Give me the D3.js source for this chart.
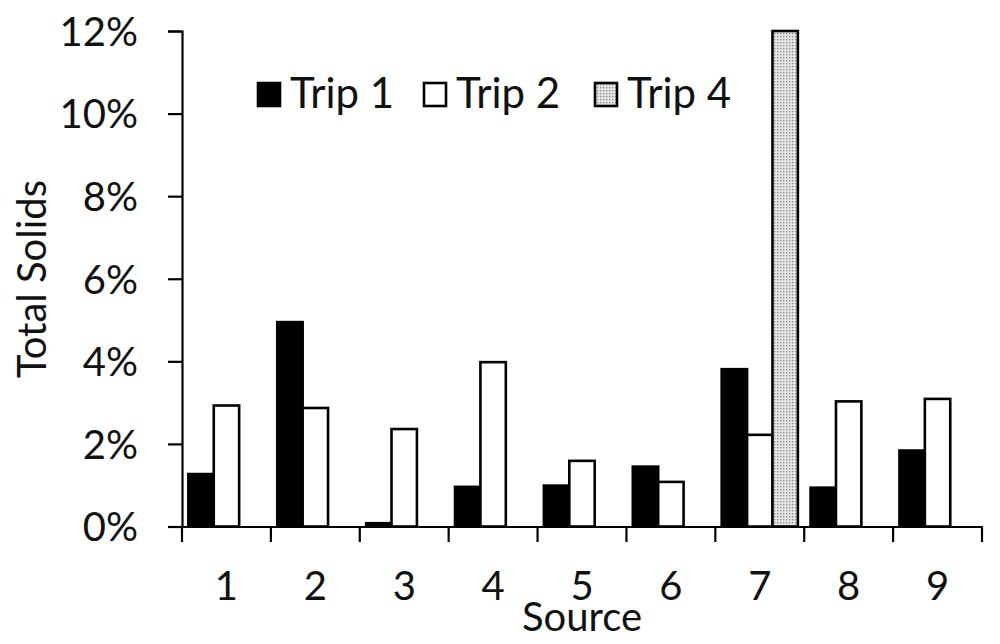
<!DOCTYPE html>
<html><head><meta charset="utf-8">
<script src="https://cdn.jsdelivr.net/npm/d3@7/dist/d3.min.js"></script>
<style>body{margin:0;background:#fff}svg text{font-family:Lato,"Open Sans",sans-serif;fill:#111}</style>
</head><body><svg id="c" width="1000" height="644"></svg>
<script>
const categories = ["1","2","3","4","5","6","7","8","9"];
const series = ["Trip 1","Trip 2","Trip 4"];
const trip1 = [1.27, 4.95, 0.08, 0.96, 0.99, 1.45, 3.81, 0.94, 1.84];
const trip2 = [2.93, 2.87, 2.36, 3.98, 1.59, 1.08, 2.22, 3.03, 3.09];
const trip4 = [null, null, null, null, null, null, 12, null, null];
const yTicks = [0, 2, 4, 6, 8, 10, 12];

const svg = d3.select("#c");
const defs = svg.append("defs");
const pat = defs.append("pattern").attr("id","dots").attr("patternUnits","userSpaceOnUse")
  .attr("width",3).attr("height",3);
pat.append("rect").attr("width",3).attr("height",3).attr("fill","#e4e4e4");
pat.append("rect").attr("x",0).attr("y",0).attr("width",1.3).attr("height",1.3).attr("fill","#888");

const x0 = d3.scaleBand().domain(categories).range([182, 982]).paddingInner(0).paddingOuter(0);
const x1 = d3.scaleBand().domain(series).range([0, x0.bandwidth()]).paddingInner(0).paddingOuter(0.25);
const y = d3.scaleLinear().domain([0, 12]).range([526.5, 31]).clamp(true);

const vals = {"Trip 1": trip1, "Trip 2": trip2, "Trip 4": trip4};
const fills = {"Trip 1": "#000", "Trip 2": "#fff", "Trip 4": "url(#dots)"};

const data = [];
series.forEach(s => categories.forEach((c, i) => { if (vals[s][i] != null) data.push({s, c, v: vals[s][i]}); }));

svg.append("g").selectAll("rect").data(data).join("rect")
  .attr("x", d => x0(d.c) + x1(d.s))
  .attr("width", x1.bandwidth())
  .attr("y", d => y(d.v))
  .attr("height", d => y(0) - y(d.v))
  .attr("fill", d => fills[d.s])
  .attr("stroke", "#000").attr("stroke-width", 2.6);

// y axis
const ya = svg.append("g").attr("transform","translate(182,0)")
  .call(d3.axisLeft(y).tickValues(yTicks).tickSize(14).tickPadding(30).tickFormat(d => d + "%"));
ya.select(".domain").attr("stroke","#000").attr("stroke-width",2.2);
ya.selectAll(".tick line").attr("stroke","#000").attr("stroke-width",2.2);
ya.selectAll("text").attr("font-size",40).attr("dy","0.36em");

// x axis
const xa = svg.append("g").attr("transform","translate(0,526.5)")
  .call(d3.axisBottom(x0).tickSize(0).tickPadding(0));
xa.select(".domain").attr("stroke","#000").attr("stroke-width",2.2);
xa.selectAll("text").attr("font-size",40).attr("y",73).attr("dy",0);
const xt = categories.map(c => x0(c)).concat([x0.range()[1]]);
svg.append("g").selectAll("line").data(xt).join("line")
  .attr("x1", d => d).attr("x2", d => d).attr("y1", 526.5).attr("y2", 542)
  .attr("stroke","#000").attr("stroke-width",2.2);

// titles
svg.append("text").attr("x", 582).attr("y", 631).attr("text-anchor","middle").attr("font-size",40).text("Source");
svg.append("text").attr("transform","translate(46,279) rotate(-90)").attr("text-anchor","middle").attr("font-size",40).text("Total Solids");

// legend
const legX = [257, 423, 594];
const lg = svg.append("g").selectAll("g").data(series).join("g")
  .attr("transform", (d, i) => `translate(${legX[i]},0)`);
lg.append("rect").attr("x",1).attr("y",83).attr("width",22).attr("height",23)
  .attr("fill", d => fills[d]).attr("stroke","#000").attr("stroke-width",2.6);
lg.append("text").attr("x",33).attr("y",108).attr("font-size",42).text(d => d);
</script></body></html>
